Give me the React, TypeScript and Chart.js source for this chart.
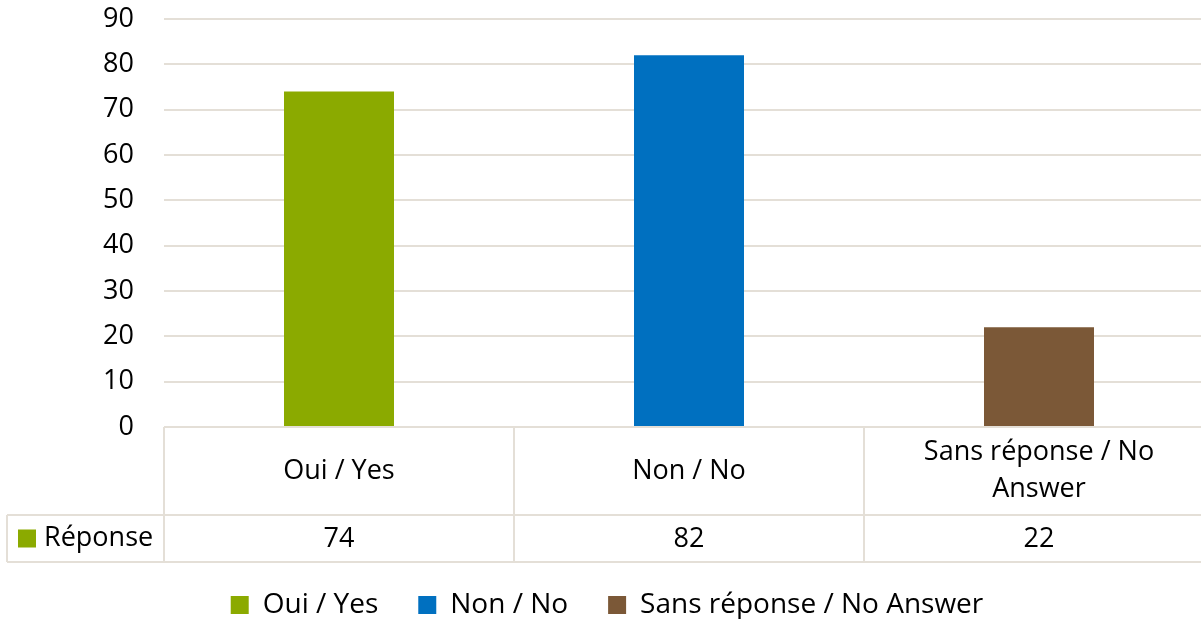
import React, { useEffect, useRef } from 'react';
import { Chart, registerables } from 'chart.js';

Chart.register(...registerables);

const categories = ['Oui / Yes', 'Non / No', 'Sans réponse / No Answer'];
const categoryLines = [['Oui / Yes'], ['Non / No'], ['Sans réponse / No', 'Answer']];
const seriesName = 'Réponse';
const values = [74, 82, 22];
const barColors = ['#8BAA00', '#0070C0', '#7B5837'];
const yMin = 0;
const yMax = 90;
const yStep = 10;

const FONT = '"Open Sans", "Noto Sans", sans-serif';
const FONT_SIZE = 27;
const LEGEND_FONT_SIZE = 28;
const LINE = '#E4DFD7';
const TEXT = '#000000';
const CANVAS_W = 1214;
const CANVAS_H = 619;
const PLOT_TOP = 19;
const PLOT_BOTTOM = 427;
const HEADER_H = 88;
const ROW_H = 47;
const TABLE_LEFT = 7;
const LEGEND_SHIFT = 10;

const tablePlugin = {
  id: 'dataTable',
  afterDraw(chart: any) {
    const { ctx, chartArea, scales } = chart;
    const x = scales.x;
    const n = categories.length;
    const top = chartArea.bottom;
    const mid = top + HEADER_H;
    const bot = mid + ROW_H;
    const left = chartArea.left;
    const right = chartArea.right;
    const cw = (right - left) / n;

    ctx.save();
    ctx.strokeStyle = LINE;
    ctx.lineWidth = 2;
    const line = (x1: number, y1: number, x2: number, y2: number) => {
      ctx.beginPath();
      ctx.moveTo(x1, y1);
      ctx.lineTo(x2, y2);
      ctx.stroke();
    };
    line(left, top, right, top);
    line(TABLE_LEFT, mid, right, mid);
    line(TABLE_LEFT, bot, right, bot);
    line(TABLE_LEFT, mid, TABLE_LEFT, bot);
    for (let i = 0; i <= n; i++) {
      const xb = left + i * cw;
      line(xb, top, xb, bot);
    }

    ctx.fillStyle = TEXT;
    ctx.font = `${FONT_SIZE}px ${FONT}`;
    ctx.textAlign = 'center';
    ctx.textBaseline = 'middle';
    const lh = 37;
    categoryLines.forEach((lines, i) => {
      const cx = x.getPixelForValue(i);
      const cy = top + HEADER_H / 2;
      const start = cy - ((lines.length - 1) * lh) / 2;
      lines.forEach((t, j) => ctx.fillText(t, cx, start + j * lh));
    });
    const rowMid = (mid + bot) / 2;
    values.forEach((v, i) => {
      ctx.fillText(String(v), x.getPixelForValue(i), rowMid + 1);
    });
    ctx.fillStyle = barColors[0];
    ctx.fillRect(18, rowMid - 9, 18, 18);
    ctx.fillStyle = TEXT;
    ctx.textAlign = 'left';
    ctx.fillText(seriesName, 44, rowMid);
    ctx.restore();
  },
};

export default function App() {
  const ref = useRef<HTMLCanvasElement | null>(null);

  useEffect(() => {
    if (!ref.current) return;
    const chart = new Chart(ref.current, {
      type: 'bar',
      data: {
        labels: categories,
        datasets: [
          {
            label: seriesName,
            data: values,
            backgroundColor: barColors,
            borderWidth: 0,
            categoryPercentage: 1,
            barPercentage: 110 / 350,
          },
        ],
      },
      options: {
        responsive: false,
        animation: false,
        layout: { padding: { top: PLOT_TOP, right: 0, left: 0, bottom: -LEGEND_SHIFT } },
        plugins: {
          tooltip: { enabled: false },
          legend: {
            position: 'bottom',
            onClick: () => {},
            labels: {
              boxWidth: 18,
              boxHeight: 18,
              padding: 40,
              color: TEXT,
              font: { size: LEGEND_FONT_SIZE, family: FONT },
              generateLabels: () =>
                categories.map((c, i) => ({
                  text: c,
                  fillStyle: barColors[i],
                  strokeStyle: barColors[i],
                  lineWidth: 0,
                  hidden: false,
                  index: i,
                  datasetIndex: 0,
                  fontColor: TEXT,
                })),
            },
          },
        },
        scales: {
          x: {
            ticks: { display: false },
            grid: { display: false },
            border: { display: false },
            afterFit: (s: any) => {
              const lg = s.chart.legend ? s.chart.legend.height : 0;
              s.height = CANVAS_H + LEGEND_SHIFT - PLOT_BOTTOM - lg;
            },
          },
          y: {
            min: yMin,
            max: yMax,
            ticks: {
              stepSize: yStep,
              padding: 0,
              color: TEXT,
              font: { size: FONT_SIZE, family: FONT },
            },
            grid: {
              color: LINE,
              lineWidth: 2,
              drawTicks: true,
              tickLength: 30,
              tickColor: 'rgba(0,0,0,0)',
            },
            border: { display: false },
            afterFit: (s: any) => {
              s.width = 164;
            },
          },
        },
      },
      plugins: [tablePlugin],
    });
    return () => chart.destroy();
  }, []);

  return (
    <div
      style={{
        position: 'fixed',
        left: 0,
        top: 0,
        width: 1201,
        height: CANVAS_H,
        overflow: 'hidden',
        background: '#ffffff',
      }}
    >
      <canvas ref={ref} width={CANVAS_W} height={CANVAS_H} style={{ display: 'block' }} />
    </div>
  );
}
